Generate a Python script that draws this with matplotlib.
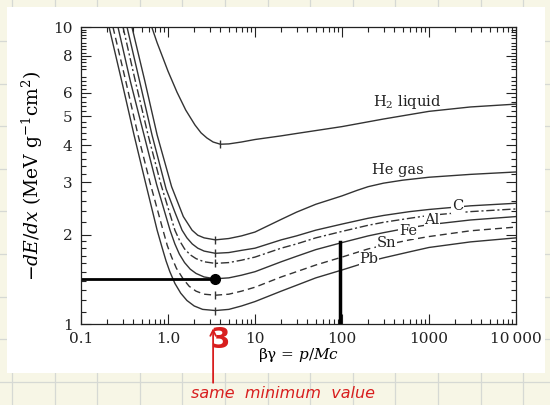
import numpy as np
import matplotlib
matplotlib.use('Agg')
import matplotlib.pyplot as plt
from matplotlib.ticker import FixedLocator, LogLocator, NullFormatter
from matplotlib.lines import Line2D
from matplotlib.patches import Rectangle
from matplotlib.transforms import blended_transform_factory

plt.rcParams['font.family'] = ['DejaVu Serif']
plt.rcParams['mathtext.fontset'] = 'dejavuserif'

# curve data: beta*gamma and -dE/dx (MeV g^-1 cm^2)
h2_bg = [0.65, 0.75, 0.876, 1.0, 1.27, 1.6, 2.04, 2.4, 2.8, 3.3, 4.0, 5, 7, 10, 20, 30, 50, 100, 300, 1000, 3000, 10000]
h2_de = [10, 8.85, 7.86, 7.1, 6.03, 5.25, 4.68, 4.40, 4.23, 4.10, 4.03, 4.04, 4.10, 4.18, 4.30, 4.38, 4.48, 4.62, 4.90, 5.20, 5.38, 5.50]

he_bg = [0.385, 0.54, 0.75, 1.1, 1.5, 1.89, 2.2, 2.6, 3.5, 5, 7, 10, 20, 30, 50, 100, 150, 200, 300, 500, 1000, 3000, 10000]
he_de = [10, 6.6, 4.33, 2.9, 2.3, 2.07, 1.99, 1.95, 1.92, 1.94, 1.98, 2.04, 2.25, 2.38, 2.53, 2.70, 2.82, 2.90, 2.98, 3.05, 3.12, 3.19, 3.25]

c_bg = [0.338, 0.47, 0.655, 0.95, 1.2, 1.45, 1.65, 1.9, 2.2, 2.6, 3.5, 5, 7, 10, 20, 30, 50, 100, 200, 300, 600, 1000, 3000, 10000]
c_de = [10, 6.6, 4.33, 2.85, 2.38, 2.07, 1.95, 1.86, 1.80, 1.76, 1.73, 1.74, 1.77, 1.80, 1.92, 1.98, 2.07, 2.17, 2.27, 2.32, 2.39, 2.43, 2.50, 2.55]

al_bg = [0.304, 0.42, 0.59, 0.83, 1.2, 1.37, 1.55, 1.8, 2.1, 2.6, 3.5, 5, 7, 10, 20, 30, 50, 100, 200, 300, 600, 1000, 3000, 10000]
al_de = [10, 6.6, 4.33, 2.95, 2.07, 1.90, 1.79, 1.71, 1.66, 1.62, 1.60, 1.61, 1.64, 1.68, 1.80, 1.86, 1.95, 2.05, 2.15, 2.20, 2.27, 2.32, 2.39, 2.44]

fe_bg = [0.266, 0.37, 0.53, 0.74, 1.055, 1.2, 1.35, 1.55, 1.8, 2.1, 2.6, 3.5, 5, 7, 10, 20, 30, 50, 100, 200, 300, 600, 1000, 3000, 10000]
fe_de = [10, 6.55, 4.33, 2.95, 2.07, 1.86, 1.72, 1.61, 1.53, 1.48, 1.44, 1.42, 1.43, 1.46, 1.50, 1.62, 1.69, 1.78, 1.88, 1.98, 2.03, 2.11, 2.16, 2.24, 2.30]

sn_bg = [0.233, 0.33, 0.452, 0.62, 0.876, 0.98, 1.1, 1.25, 1.49, 1.75, 2.1, 2.6, 3.5, 5, 7, 10, 20, 30, 50, 100, 200, 300, 600, 1000, 3000, 10000]
sn_de = [10, 6.5, 4.33, 3.0, 2.07, 1.84, 1.68, 1.54, 1.42, 1.34, 1.29, 1.26, 1.25, 1.26, 1.29, 1.33, 1.44, 1.50, 1.58, 1.68, 1.79, 1.84, 1.92, 1.97, 2.06, 2.12]

pb_bg = [0.21, 0.3, 0.407, 0.55, 0.75, 0.85, 0.95, 1.05, 1.2, 1.4, 1.65, 2.0, 2.5, 3.5, 5, 7, 10, 20, 30, 50, 100, 200, 300, 600, 1000, 3000, 10000]
pb_de = [10, 6.4, 4.33, 3.0, 2.07, 1.82, 1.63, 1.50, 1.37, 1.27, 1.20, 1.15, 1.12, 1.11, 1.12, 1.15, 1.19, 1.29, 1.35, 1.43, 1.52, 1.62, 1.67, 1.75, 1.81, 1.89, 1.95]

min_bg = [4.0, 3.5, 3.5, 3.5, 3.5, 3.5, 3.5]
min_de = [4.03, 1.92, 1.73, 1.60, 1.42, 1.25, 1.11]

x_ticks = [0.1, 1, 10, 100, 1000, 10000]
x_labels = ['0.1', '1.0', '10', '100', '1000', '10\u2009000']
y_ticks = [1, 2, 3, 4, 5, 6, 8, 10]
y_labels = ['1', '2', '3', '4', '5', '6', '8', '10']

W, H = 550, 405
fig = plt.figure(figsize=(5.5, 4.05), dpi=100, facecolor='#f7f6e6')

# notebook paper grid behind the pasted figure
for gx in np.arange(12, W, 42.6):
    fig.add_artist(Line2D([gx / W, gx / W], [0, 1], color='#d6d9d4', lw=0.9, zorder=-3))
for gy in np.arange(41, H, 42.6):
    fig.add_artist(Line2D([0, 1], [1 - gy / H, 1 - gy / H], color='#d6d9d4', lw=0.9, zorder=-3))
fig.add_artist(Rectangle((7 / W, 1 - 373 / H), 538 / W, 366 / H,
                         facecolor='white', edgecolor='none', zorder=-2))

ax = fig.add_axes([81 / W, 1 - 324 / H, 435 / W, 297 / H])
ax.set_facecolor('none')
ax.set_xscale('log')
ax.set_yscale('log')
ax.set_xlim(0.1, 10000)
ax.set_ylim(1, 10)

lc = '#333333'
ax.plot(h2_bg, h2_de, color=lc, lw=1.0)
ax.plot(he_bg, he_de, color=lc, lw=1.0)
ax.plot(c_bg, c_de, color=lc, lw=1.0)
ax.plot(al_bg, al_de, color=lc, lw=1.0, ls=(0, (6, 2, 1.5, 2)))
ax.plot(fe_bg, fe_de, color=lc, lw=1.0)
ax.plot(sn_bg, sn_de, color=lc, lw=1.0, ls=(0, (5, 3)))
ax.plot(pb_bg, pb_de, color=lc, lw=1.0)
ax.plot(min_bg, min_de, ls='none', marker='|', ms=6, mew=1.0, color=lc)

tkw = dict(fontsize=10.5, color='#222222')
ax.text(560, 5.6, 'H$_2$ liquid', ha='center', va='center', **tkw)
ax.text(440, 3.3, 'He gas', ha='center', va='center', **tkw)
box = dict(facecolor='white', edgecolor='none', pad=0.5)
ax.text(2140, 2.49, 'C', ha='center', va='center', bbox=box, **tkw)
ax.text(1080, 2.24, 'Al', ha='center', va='center', bbox=box, **tkw)
ax.text(574, 2.06, 'Fe', ha='center', va='center', bbox=box, **tkw)
ax.text(321, 1.87, 'Sn', ha='center', va='center', bbox=box, **tkw)
ax.text(204, 1.655, 'Pb', ha='center', va='center', bbox=box, **tkw)

ax.xaxis.set_major_locator(FixedLocator(x_ticks))
ax.set_xticklabels(x_labels)
ax.xaxis.set_minor_locator(LogLocator(base=10, subs=np.arange(2, 10)))
ax.xaxis.set_minor_formatter(NullFormatter())
ax.yaxis.set_major_locator(FixedLocator(y_ticks))
ax.set_yticklabels(y_labels)
y_minor = [v / 10 for v in range(11, 20)] + [v / 10 for v in range(22, 100, 2) if v % 10 != 0]
ax.yaxis.set_minor_locator(FixedLocator(y_minor))
ax.yaxis.set_minor_formatter(NullFormatter())
ax.tick_params(which='both', direction='in', top=True, right=True, width=0.8, colors='#222222')
ax.tick_params(which='major', length=7, labelsize=11, pad=6)
ax.tick_params(which='minor', length=3.5)
for s in ax.spines.values():
    s.set_linewidth(0.9)
    s.set_color('#222222')

ax.set_xlabel('\u03b2\u03b3 = $p/Mc$', fontsize=11, labelpad=0)
ax.set_ylabel('$-dE/dx$ (MeV g$^{-1}$cm$^2$)', fontsize=13.5, labelpad=6)

# hand-drawn marks
ax.plot([0.1, 3.5], [1.42, 1.42], color='black', lw=2.0, solid_capstyle='butt')
ax.plot([3.5], [1.42], 'o', color='black', ms=7)
ax.plot([95, 95], [1.0, 1.89], color='black', lw=2.5)

red = '#d81e1e'
ax.annotate('', xy=(3.3, -0.005), xycoords=('data', 'axes fraction'),
            xytext=(3.3, 0.048), textcoords=('data', 'figure fraction'),
            arrowprops=dict(arrowstyle='->', color=red, lw=1.3), annotation_clip=False)
ax.text(3.96, 0.16, '3', transform=blended_transform_factory(ax.transData, fig.transFigure),
        color=red, fontsize=20, fontweight='bold', family='DejaVu Sans', ha='center', va='center')
fig.text(283 / W, 1 - 394 / H, 'same  minimum  value', color=red, fontsize=11.5,
         family='DejaVu Sans', style='italic', ha='center', va='center')

fig.savefig('out.png', dpi=100, facecolor=fig.get_facecolor())
